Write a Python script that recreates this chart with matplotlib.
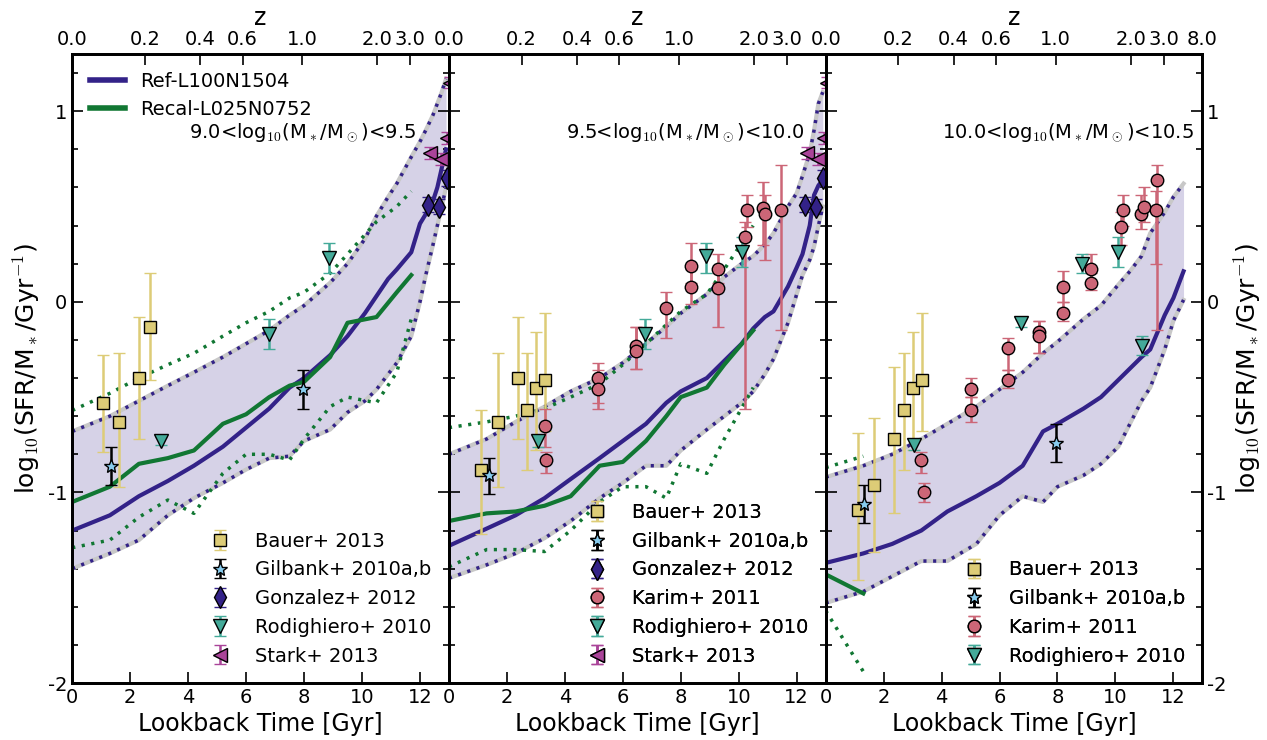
import numpy as np
import matplotlib
matplotlib.use("Agg")
import matplotlib.pyplot as plt
from matplotlib.lines import Line2D

plt.rcParams["font.family"] = "DejaVu Sans"
plt.rcParams["mathtext.fontset"] = "cm"
plt.rcParams["axes.unicode_minus"] = False
plt.rcParams["axes.linewidth"] = 2

ARQUIVO_SAIDA = "out.png"

COR_REF = "#332288"
COR_RECAL = "#117733"
COR_BAUER = "#DDCC77"
COR_GILBANK = "#88CCEE"
COR_KARIM = "#CC6677"
COR_RODI = "#44AA99"
COR_STARK = "#AA4499"

MASS_BINS = ["9.0<log$_{10}$(M$_*$/M$_\\odot$)<9.5",
             "9.5<log$_{10}$(M$_*$/M$_\\odot$)<10.0",
             "10.0<log$_{10}$(M$_*$/M$_\\odot$)<10.5"]

Z_TICKS = [0.0, 0.2, 0.4, 0.6, 1.0, 2.0, 3.0]
Z_TICKS_LAST = [0.0, 0.2, 0.4, 0.6, 1.0, 2.0, 3.0, 8.0]
T_MAX = 13.0

# --- simulations: lookback time grid, median and 10/90 percentiles ---
ref_t = [0.0, 1.3, 2.3, 3.3, 4.2, 5.2, 6.0, 6.8, 7.5, 8.0, 8.9, 9.5, 10.1,
         10.5, 10.9, 11.2, 11.7, 12.0, 12.2, 12.45, 12.6, 12.75, 12.9]
ref_t3 = [0.0, 1.3, 2.3, 3.3, 4.2, 5.2, 6.0, 6.8, 7.5, 8.0, 8.9, 9.5, 10.1,
          10.5, 10.9, 11.2, 11.7, 12.0, 12.35]

ref_med1 = [-1.20, -1.12, -1.02, -0.94, -0.86, -0.76, -0.66, -0.56, -0.45, -0.40, -0.28,
            -0.18, -0.06, 0.03, 0.12, 0.17, 0.26, 0.41, 0.46, 0.53, 0.60, 0.70, 0.80]
ref_hi1 = [-0.68, -0.60, -0.52, -0.44, -0.37, -0.29, -0.22, -0.15, -0.07, -0.02, 0.10,
           0.20, 0.33, 0.45, 0.55, 0.62, 0.76, 0.84, 0.90, 0.98, 1.04, 1.10, 1.17]
ref_lo1 = [-1.40, -1.32, -1.25, -1.12, -1.03, -0.95, -0.88, -0.82, -0.81, -0.73, -0.67,
           -0.58, -0.52, -0.46, -0.38, -0.32, -0.18, 0.00, 0.14, 0.30, 0.40, 0.50, 0.60]

ref_med2 = [-1.28, -1.19, -1.12, -1.03, -0.93, -0.82, -0.73, -0.64, -0.53, -0.47, -0.40,
            -0.31, -0.22, -0.14, -0.08, -0.05, 0.08, 0.18, 0.25, 0.40, 0.56, 0.61, 0.64]
ref_hi2 = [-0.80, -0.72, -0.63, -0.55, -0.47, -0.40, -0.32, -0.22, -0.13, -0.06, 0.04,
           0.13, 0.20, 0.24, 0.30, 0.36, 0.50, 0.57, 0.66, 0.78, 0.90, 1.04, 1.10]
ref_lo2 = [-1.45, -1.38, -1.32, -1.24, -1.15, -1.03, -0.95, -0.86, -0.86, -0.78, -0.67,
           -0.60, -0.53, -0.47, -0.38, -0.30, -0.11, 0.04, 0.14, 0.22, 0.29, 0.40, 0.50]

ref_med3 = [-1.37, -1.32, -1.27, -1.20, -1.10, -1.02, -0.95, -0.86, -0.68, -0.64, -0.56,
            -0.50, -0.41, -0.35, -0.29, -0.25, -0.07, 0.02, 0.16]
ref_hi3 = [-0.92, -0.86, -0.80, -0.72, -0.64, -0.55, -0.46, -0.37, -0.27, -0.21, -0.09,
           -0.02, 0.09, 0.16, 0.24, 0.36, 0.47, 0.55, 0.62]
ref_lo3 = [-1.58, -1.52, -1.44, -1.36, -1.36, -1.27, -1.12, -1.02, -1.05, -0.97, -0.91,
           -0.85, -0.76, -0.64, -0.52, -0.45, -0.25, -0.10, 0.01]

recal_t1 = [0.0, 1.3, 2.3, 3.3, 4.2, 5.2, 6.0, 6.8, 7.5, 8.0, 8.9, 9.5, 10.5, 11.2, 11.7]
recal_med1 = [-1.05, -0.97, -0.85, -0.82, -0.78, -0.64, -0.59, -0.50, -0.44, -0.42, -0.29,
              -0.11, -0.08, 0.05, 0.14]
recal_hi1 = [-0.57, -0.48, -0.40, -0.33, -0.27, -0.18, -0.11, -0.05, 0.02, 0.05, 0.15,
             0.25, 0.42, 0.50, 0.58]
recal_lo1 = [-1.29, -1.25, -1.13, -1.04, -1.11, -0.90, -0.80, -0.80, -0.83, -0.72, -0.55,
             -0.50, -0.53, -0.37, -0.09]

recal_t2 = [0.0, 1.3, 2.3, 3.3, 4.2, 5.2, 6.0, 6.8, 7.5, 8.0, 8.9, 9.5, 10.5]
recal_med2 = [-1.15, -1.11, -1.10, -1.07, -1.02, -0.86, -0.84, -0.73, -0.60, -0.50, -0.45,
              -0.33, -0.15]
recal_hi2 = [-0.66, -0.63, -0.60, -0.56, -0.50, -0.43, -0.33, -0.22, -0.12, -0.05, 0.04,
             0.17, 0.40]
recal_lo2 = [-1.39, -1.30, -1.30, -1.31, -1.20, -1.05, -0.97, -0.97, -1.03, -0.85, -0.90,
             -0.72, -0.45]

recal_t3 = [0.0, 1.3]
recal_med3 = [-1.43, -1.53]
recal_hi3 = [-0.87, -0.81]
recal_lo3 = [-1.62, -1.94]

# --- observations: time, value, lower and upper ends of the error bar ---
bauer_t1 = [1.07, 1.63, 2.30, 2.67]
bauer_y1 = [-0.53, -0.63, -0.40, -0.13]
bauer_lo1 = [-0.79, -0.97, -0.72, -0.41]
bauer_hi1 = [-0.28, -0.27, -0.08, 0.15]

bauer_t2 = [1.10, 1.70, 2.38, 2.70, 3.00, 3.32]
bauer_y2 = [-0.88, -0.63, -0.40, -0.57, -0.45, -0.41]
bauer_lo2 = [-1.22, -0.97, -0.72, -0.88, -0.78, -0.68]
bauer_hi2 = [-0.57, -0.27, -0.08, -0.27, -0.16, -0.06]

bauer_t3 = [1.10, 1.67, 2.35, 2.70, 3.00, 3.32]
bauer_y3 = [-1.09, -0.96, -0.72, -0.57, -0.45, -0.41]
bauer_lo3 = [-1.46, -1.31, -1.11, -0.88, -0.78, -0.68]
bauer_hi3 = [-0.69, -0.61, -0.34, -0.27, -0.16, -0.06]

gilbank_t1 = [1.35, 7.96]
gilbank_y1 = [-0.86, -0.46]
gilbank_lo1 = [-0.96, -0.56]
gilbank_hi1 = [-0.76, -0.36]

gilbank_t2 = [1.38]
gilbank_y2 = [-0.91]
gilbank_lo2 = [-1.01]
gilbank_hi2 = [-0.82]

gilbank_t3 = [1.33, 7.95]
gilbank_y3 = [-1.06, -0.74]
gilbank_lo3 = [-1.16, -0.84]
gilbank_hi3 = [-0.96, -0.64]

gonzalez_t = [12.28, 12.66, 12.92]
gonzalez_y = [0.51, 0.50, 0.65]
gonzalez_lo = [0.47, 0.46, 0.61]
gonzalez_hi = [0.55, 0.54, 0.69]

karim_t2 = [3.32, 3.36, 5.15, 5.15, 6.44, 6.44, 7.50, 8.35, 8.35, 9.30, 9.30,
            10.20, 10.30, 10.83, 10.90, 11.45]
karim_y2 = [-0.65, -0.83, -0.40, -0.46, -0.23, -0.26, -0.03, 0.19, 0.08, 0.17, 0.07,
            0.34, 0.48, 0.49, 0.46, 0.48]
karim_lo2 = [-0.76, -0.90, -0.53, -0.56, -0.35, -0.35, -0.19, 0.10, -0.01, 0.10, -0.13,
             -0.56, 0.39, 0.30, 0.22, -0.15]
karim_hi2 = [-0.56, -0.79, -0.32, -0.36, -0.13, -0.13, 0.05, 0.31, 0.17, 0.25, 0.15,
             0.42, 0.56, 0.63, 0.56, 0.72]

karim_t3 = [3.30, 3.40, 5.00, 5.00, 6.30, 6.30, 7.35, 7.35, 8.20, 8.20, 9.15, 9.15,
            10.20, 10.26, 10.87, 10.97, 11.40, 11.45]
karim_y3 = [-0.83, -1.00, -0.46, -0.57, -0.24, -0.41, -0.16, -0.18, 0.08, -0.06, 0.17,
            0.10, 0.39, 0.48, 0.46, 0.50, 0.48, 0.64]
karim_lo3 = [-0.90, -1.05, -0.50, -0.63, -0.36, -0.45, -0.27, -0.27, 0.00, -0.10, 0.10,
             0.06, 0.30, 0.40, 0.38, 0.42, 0.20, -0.15]
karim_hi3 = [-0.79, -0.95, -0.40, -0.50, -0.19, -0.36, -0.10, -0.10, 0.16, 0.00, 0.25,
             0.15, 0.47, 0.56, 0.56, 0.60, 0.58, 0.72]

rodi_t1 = [3.05, 6.78, 8.86]
rodi_y1 = [-0.73, -0.17, 0.23]
rodi_lo1 = [-0.75, -0.25, 0.15]
rodi_hi1 = [-0.71, -0.09, 0.31]

rodi_t2 = [3.08, 6.78, 8.86, 10.10]
rodi_y2 = [-0.73, -0.17, 0.24, 0.26]
rodi_lo2 = [-0.76, -0.25, 0.15, 0.18]
rodi_hi2 = [-0.70, -0.09, 0.31, 0.34]

rodi_t3 = [3.05, 6.75, 8.85, 10.10, 10.90]
rodi_y3 = [-0.75, -0.11, 0.20, 0.26, -0.23]
rodi_lo3 = [-0.78, -0.13, 0.15, 0.18, -0.28]
rodi_hi3 = [-0.72, -0.09, 0.25, 0.34, -0.18]

stark_t = [12.35, 12.72, 12.95, 13.05]
stark_y = [0.78, 0.75, 0.86, 1.15]
stark_lo = [0.75, 0.72, 0.83, 1.12]
stark_hi = [0.81, 0.78, 0.89, 1.18]


def tempo_lookback(z, h0=67.77, om=0.307):
    zz = np.linspace(0.0, z, 4000)
    f = 1.0 / ((1.0 + zz) * np.sqrt(om * (1.0 + zz) ** 3 + 1.0 - om))
    return 977.8 / h0 * np.sum(0.5 * (f[1:] + f[:-1]) * np.diff(zz))


def barras(ax, t, y, lo, hi, marcador, cor_face, cor_erro, ms, label):
    y = np.array(y)
    erro = [y - np.array(lo), np.array(hi) - y]
    return ax.errorbar(t, y, yerr=erro, fmt=marcador, ms=ms, mfc=cor_face, mec="black",
                       mew=1.0, ecolor=cor_erro, elinewidth=1.8, capsize=4.5,
                       capthick=1.5, zorder=6, label=label)


def faixa_ref(ax, t, med, lo, hi):
    ax.fill_between(t, lo, hi, color=COR_REF, alpha=0.2, lw=0, zorder=1)
    for linha in (lo, hi):
        ax.plot(t, linha, color="#c8c8c8", lw=3, zorder=2)
        ax.plot(t, linha, color=COR_REF, lw=2.5, ls=(0, (0.9, 1.9)), zorder=3)
    return ax.plot(t, med, color=COR_REF, lw=3, zorder=5)[0]


def faixa_recal(ax, t, med, lo, hi):
    for linha in (lo, hi):
        ax.plot(t, linha, color=COR_RECAL, lw=2.5, ls=(0, (0.9, 1.9)), zorder=3)
    return ax.plot(t, med, color=COR_RECAL, lw=3, zorder=5)[0]


def main():
    fig, eixos = plt.subplots(1, 3, figsize=(12.67, 7.4), dpi=100, sharey=True)
    fig.subplots_adjust(left=0.057, right=0.949, bottom=0.077, top=0.927, wspace=0)

    paineis = [
        (ref_t, ref_med1, ref_lo1, ref_hi1, recal_t1, recal_med1, recal_lo1, recal_hi1),
        (ref_t, ref_med2, ref_lo2, ref_hi2, recal_t2, recal_med2, recal_lo2, recal_hi2),
        (ref_t3, ref_med3, ref_lo3, ref_hi3, recal_t3, recal_med3, recal_lo3, recal_hi3),
    ]

    for i, ax in enumerate(eixos):
        rt, rm, rl, rh, ct, cm, cl, ch = paineis[i]
        faixa_ref(ax, rt, rm, rl, rh)
        faixa_recal(ax, ct, cm, cl, ch)

        obs = []
        if i == 0:
            obs.append(barras(ax, bauer_t1, bauer_y1, bauer_lo1, bauer_hi1, "s", COR_BAUER, COR_BAUER, 9, "Bauer+ 2013"))
            obs.append(barras(ax, gilbank_t1, gilbank_y1, gilbank_lo1, gilbank_hi1, "*", COR_GILBANK, "black", 10, "Gilbank+ 2010a,b"))
            obs.append(barras(ax, gonzalez_t, gonzalez_y, gonzalez_lo, gonzalez_hi, "d", COR_REF, COR_REF, 11, "Gonzalez+ 2012"))
            obs.append(barras(ax, rodi_t1, rodi_y1, rodi_lo1, rodi_hi1, "v", COR_RODI, COR_RODI, 10, "Rodighiero+ 2010"))
            obs.append(barras(ax, stark_t, stark_y, stark_lo, stark_hi, "<", COR_STARK, COR_STARK, 10, "Stark+ 2013"))
        elif i == 1:
            obs.append(barras(ax, bauer_t2, bauer_y2, bauer_lo2, bauer_hi2, "s", COR_BAUER, COR_BAUER, 9, "Bauer+ 2013"))
            obs.append(barras(ax, gilbank_t2, gilbank_y2, gilbank_lo2, gilbank_hi2, "*", COR_GILBANK, "black", 10, "Gilbank+ 2010a,b"))
            obs.append(barras(ax, gonzalez_t, gonzalez_y, gonzalez_lo, gonzalez_hi, "d", COR_REF, COR_REF, 11, "Gonzalez+ 2012"))
            obs.append(barras(ax, karim_t2, karim_y2, karim_lo2, karim_hi2, "o", COR_KARIM, COR_KARIM, 9, "Karim+ 2011"))
            obs.append(barras(ax, rodi_t2, rodi_y2, rodi_lo2, rodi_hi2, "v", COR_RODI, COR_RODI, 10, "Rodighiero+ 2010"))
            obs.append(barras(ax, stark_t, stark_y, stark_lo, stark_hi, "<", COR_STARK, COR_STARK, 10, "Stark+ 2013"))
        else:
            obs.append(barras(ax, bauer_t3, bauer_y3, bauer_lo3, bauer_hi3, "s", COR_BAUER, COR_BAUER, 9, "Bauer+ 2013"))
            obs.append(barras(ax, gilbank_t3, gilbank_y3, gilbank_lo3, gilbank_hi3, "*", COR_GILBANK, "black", 10, "Gilbank+ 2010a,b"))
            obs.append(barras(ax, karim_t3, karim_y3, karim_lo3, karim_hi3, "o", COR_KARIM, COR_KARIM, 9, "Karim+ 2011"))
            obs.append(barras(ax, rodi_t3, rodi_y3, rodi_lo3, rodi_hi3, "v", COR_RODI, COR_RODI, 10, "Rodighiero+ 2010"))

        ax.set_xlim(0, T_MAX)
        ax.set_ylim(-2, 1.3)
        ax.set_xticks([0, 2, 4, 6, 8, 10, 12])
        ax.set_yticks([-2, -1, 0, 1])
        ax.set_yticks(np.arange(-2, 1.3, 0.2), minor=True)
        ax.tick_params(which="both", direction="in", left=True, right=True, top=False,
                       labelsize=14, width=1.2)
        ax.tick_params(which="major", length=8)
        ax.tick_params(which="minor", length=4)
        ax.set_xlabel("Lookback Time [Gyr]", fontsize=17)

        ax.text(0.31, 0.874, MASS_BINS[i], transform=ax.transAxes, fontsize=14,
                ha="left", va="center")

        leg = ax.legend(handles=obs, loc="lower right", frameon=False, numpoints=1,
                        fontsize=14)
        ax.add_artist(leg)
        if i == 0:
            ax.legend(handles=[Line2D([], [], color=COR_REF, lw=4),
                               Line2D([], [], color=COR_RECAL, lw=4)],
                      labels=["Ref-L100N1504", "Recal-L025N0752"],
                      loc="upper left", frameon=False, fontsize=14, handlelength=1.8)

        topo = ax.twiny()
        topo.set_xlim(0, T_MAX)
        zs = Z_TICKS_LAST if i == 2 else Z_TICKS
        posicoes = [min(tempo_lookback(z), T_MAX) for z in zs]
        topo.set_xticks(posicoes)
        topo.set_xticklabels(["%.1f" % z for z in zs])
        topo.tick_params(direction="in", length=8, width=1.2, labelsize=14)
        topo.set_xlabel("z", fontsize=17)

    eixos[0].set_ylabel("log$_{10}$(SFR/M$_*$/Gyr$^{-1}$)", fontsize=18)
    eixos[2].yaxis.set_label_position("right")
    eixos[2].tick_params(labelright=True)
    eixos[2].set_ylabel("log$_{10}$(SFR/M$_*$/Gyr$^{-1}$)", fontsize=18)

    fig.savefig(ARQUIVO_SAIDA, dpi=100)
    plt.close(fig)


if __name__ == "__main__":
    main()
